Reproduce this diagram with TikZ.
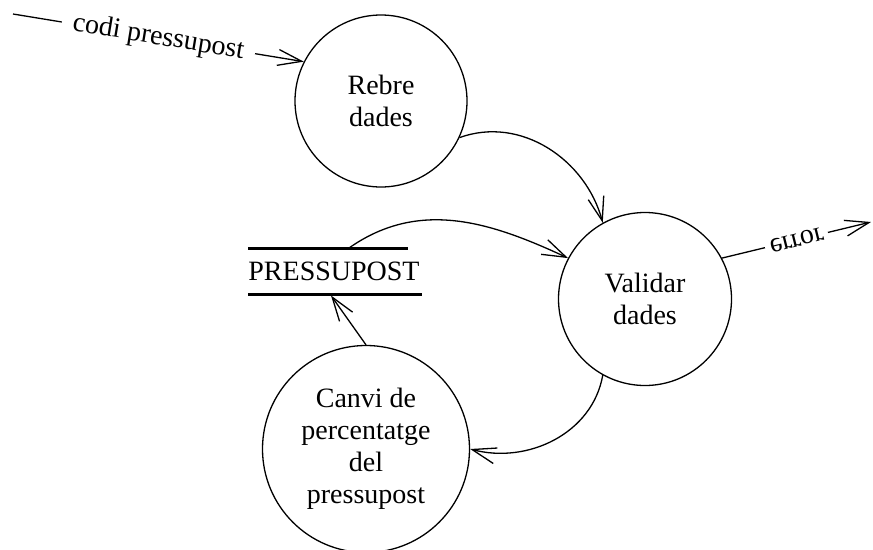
\documentclass[tikz,border=0pt]{standalone}
\usepackage{fontspec}
\usepackage{graphicx}
\setmainfont{Liberation Serif}
\usetikzlibrary{arrows.meta}
\begin{document}
\begin{tikzpicture}[x=1pt,y=-1pt,
  txt/.style={font=\fontsize{28}{32}\selectfont},
  proc/.style={circle, draw, line width=1.3pt, align=center, inner sep=0pt, txt},
  flow/.style={line width=1.3pt, -{Straight Barb[length=24pt,width=16pt,line width=1.3pt]}},
  lbl/.style={txt, fill=white, inner ysep=1pt},
  storeline/.style={line width=3pt}]
\useasboundingbox[fill=white] (0,0) rectangle (873,549);

% processes
\node[proc, minimum size=172pt] (rebre)   at (381,101) {Rebre\\dades};
\node[proc, minimum size=173pt] (validar) at (645,299) {Validar\\dades};
\node[proc, minimum size=207pt] (canvi)   at (366,449) {Canvi de\\percentatge\\del\\pressupost};

% data store
\node[txt, inner sep=0pt] (store) at (334,271) {PRESSUPOST};
\coordinate (sTL) at (248,248);
\coordinate (sTR) at (408,248);
\coordinate (sBL) at (248,294);
\coordinate (sBR) at (422,294);
\draw[storeline] (sTL) -- (sTR);
\draw[storeline] (sBL) -- (sBR);
\coordinate (storeOut) at (349,248);
\coordinate (storeIn)  at (331,295.5);

% external ends
\coordinate (src)    at (13,14);
\coordinate (errout) at (871,222);

% flows
\draw[flow] (src) -- (rebre.153)
  node[lbl, midway, rotate=-9.4, inner xsep=11pt] {codi pressupost};
\draw[flow] (rebre.-25) to[out=20, in=105] (validar.119);
\draw[flow] (storeOut) to[out=35, in=155] (validar.152);
\draw[flow] (validar.241) to[out=-100, in=-15] (canvi.0);
\draw[flow] (canvi.north) -- (storeIn);
\draw[flow] (validar.28) -- (errout)
  node[lbl, midway, rotate=14, inner xsep=5pt] {\scalebox{1}[-1]{error}};
\end{tikzpicture}
\end{document}
